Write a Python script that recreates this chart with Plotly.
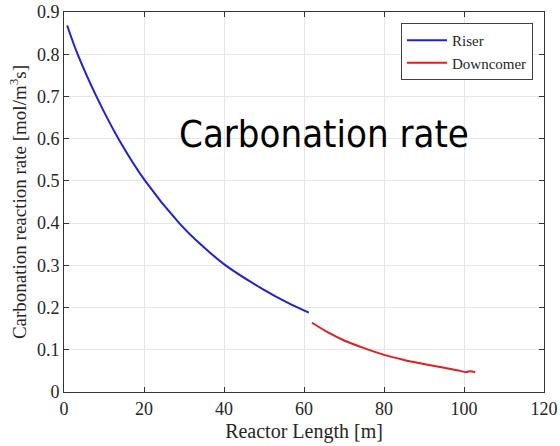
import plotly.graph_objects as go

# Riser data
riser_x = [0.8, 3.4, 8.1, 13.6, 20.3, 28.8, 34.0, 40.4, 50.0, 56.0, 61.2]
riser_y = [0.868, 0.800, 0.700, 0.600, 0.500, 0.400, 0.351, 0.300, 0.242, 0.211, 0.188]

# Downcomer data
down_x = [62.0, 66.0, 70.0, 75.0, 80.0, 85.0, 89.0, 94.0, 99.0, 100.3, 101.5, 102.8]
down_y = [0.164, 0.141, 0.122, 0.104, 0.088, 0.076, 0.068, 0.059, 0.050, 0.047, 0.049, 0.047]

x_ticks = [0, 20, 40, 60, 80, 100, 120]
y_ticks = [0, 0.1, 0.2, 0.3, 0.4, 0.5, 0.6, 0.7, 0.8, 0.9]
y_tick_labels = ["0", "0.1", "0.2", "0.3", "0.4", "0.5", "0.6", "0.7", "0.8", "0.9"]

fig = go.Figure()
fig.add_trace(go.Scatter(x=riser_x, y=riser_y, mode="lines", name="Riser",
                         line=dict(color="#2020d8", width=2, shape="spline", smoothing=1.0)))
fig.add_trace(go.Scatter(x=down_x, y=down_y, mode="lines", name="Downcomer",
                         line=dict(color="#e02020", width=2, shape="spline", smoothing=0.6)))

axis_common = dict(
    showline=True, linecolor="#333333", linewidth=1, mirror="ticks",
    ticks="inside", ticklen=5, tickcolor="#333333",
    showgrid=True, gridcolor="#e6e6e6", gridwidth=1, zeroline=False,
    automargin=False,
    tickfont=dict(family="Liberation Serif", size=18, color="#262626"),
)

fig.update_xaxes(range=[0, 120], tickvals=x_ticks, ticktext=[str(t) for t in x_ticks],
                 title=dict(text="Reactor Length [m]",
                            font=dict(family="Liberation Serif", size=20, color="#262626"),
                            standoff=6),
                 **axis_common)
fig.update_yaxes(range=[0, 0.9], tickvals=y_ticks, ticktext=y_tick_labels,
                 title=dict(text="Carbonation reaction rate [mol/m<sup>3</sup>s]",
                            font=dict(family="Liberation Serif", size=19, color="#262626"),
                            standoff=5),
                 **axis_common)

fig.add_annotation(x=0.541, y=0.742, xref="paper", yref="paper", text="Carbonation rate",
                   showarrow=False,
                   font=dict(family="Liberation Sans Narrow, DejaVu Sans Condensed, sans-serif",
                             size=38, color="black"))

fig.update_layout(
    width=560, height=446,
    margin=dict(l=64, r=16, t=12, b=54, autoexpand=False),
    plot_bgcolor="white", paper_bgcolor="white",
    showlegend=True,
    legend=dict(x=0.977, y=0.971, xanchor="right", yanchor="top",
                bordercolor="#404040", borderwidth=1, bgcolor="white",
                font=dict(family="Liberation Serif", size=15, color="#262626"),
                tracegroupgap=0, itemwidth=40),
)

fig.write_html("out.html", post_script="document.body.style.margin='0';",
               config={"displayModeBar": False})
